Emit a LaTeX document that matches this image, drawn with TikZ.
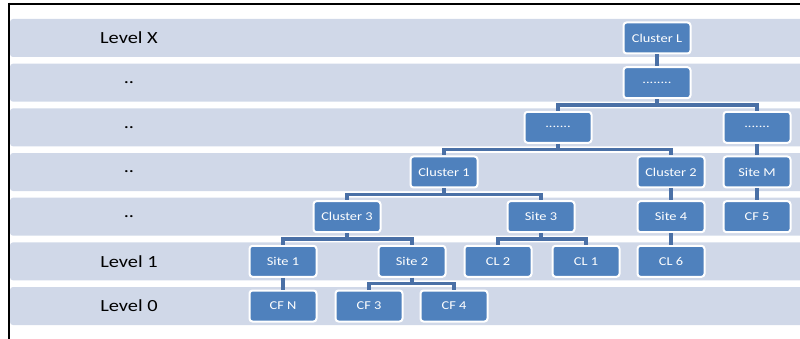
\documentclass[tikz,border=0pt]{standalone}
\usepackage{fontspec}
\setmainfont{Carlito}[FakeStretch=1.2]
\usetikzlibrary{calc}
\definecolor{bandcol}{HTML}{D0D8E8}
\definecolor{boxcol}{HTML}{4F81BD}
\definecolor{linkcol}{HTML}{4A70A6}
\tikzset{
  band/.style={fill=bandcol, draw=none, rounded corners=3pt},
  levellabel/.style={font=\fontsize{17}{19}\selectfont, text=black},
  unit/.style={draw=white, line width=2pt, fill=boxcol, rounded corners=3pt,
    minimum width=67pt, minimum height=31pt, inner sep=0pt,
    text=white, font=\fontsize{12}{14}\selectfont},
  link/.style={draw=linkcol, line width=3.5pt},
}
\newcommand{\linkto}[2]{%
  \draw[link] (#1.south) |- ($(#1.south)!0.5!(#2.north)$) -| (#2.north);}
\begin{document}
\begin{tikzpicture}[x=1pt, y=-1pt]
  \useasboundingbox (0,0) rectangle (800,339);
  % level bands
  \foreach \i in {0,...,6} {
    \pgfmathsetmacro{\top}{19+44.67*\i}
    \fill[band] (10,\top) rectangle (806,\top+38);
  }
  % frame lines
  \draw[black, line width=2pt] (8,3.7) -- (800,3.7);
  \draw[black, line width=2pt] (9.3,2.7) -- (9.3,339);
  % level labels
  \node[levellabel] (lx) at (129,38) {Level X};
  \node[levellabel] (l5) at (129,82.7) {..};
  \node[levellabel] (l4) at (129,127.3) {..};
  \node[levellabel] (l3) at (129,172) {..};
  \node[levellabel] (l2) at (129,216.7) {..};
  \node[levellabel] (l1) at (129,261.3) {Level 1};
  \node[levellabel] (l0) at (129,306) {Level 0};
  % hierarchy
  \node[unit] (cL) at (657,38) {Cluster L};
  \node[unit] (d1) at (657,82.7) {........};
  \node[unit] (d2a) at (558,127.3) {.......};
  \node[unit] (d2b) at (757,127.3) {.......};
  \node[unit] (c1) at (444,172) {Cluster 1};
  \node[unit] (c2) at (671,172) {Cluster 2};
  \node[unit] (sM) at (757,172) {Site M};
  \node[unit] (c3) at (347,216.7) {Cluster 3};
  \node[unit] (s3) at (541,216.7) {Site 3};
  \node[unit] (s4) at (671,216.7) {Site 4};
  \node[unit] (cf5) at (757,216.7) {CF 5};
  \node[unit] (s1) at (283,261.3) {Site 1};
  \node[unit] (s2) at (412,261.3) {Site 2};
  \node[unit] (cl2) at (498,261.3) {CL 2};
  \node[unit] (cl1) at (586,261.3) {CL 1};
  \node[unit] (cl6) at (671,261.3) {CL 6};
  \node[unit] (cfN) at (283,306) {CF N};
  \node[unit] (cf3) at (369,306) {CF 3};
  \node[unit] (cf4) at (454,306) {CF 4};
  % connectors
  \linkto{cL}{d1}
  \linkto{d1}{d2a}
  \linkto{d1}{d2b}
  \linkto{d2a}{c1}
  \linkto{d2a}{c2}
  \linkto{d2b}{sM}
  \linkto{c1}{c3}
  \linkto{c1}{s3}
  \linkto{c2}{s4}
  \linkto{sM}{cf5}
  \linkto{c3}{s1}
  \linkto{c3}{s2}
  \linkto{s3}{cl2}
  \linkto{s3}{cl1}
  \linkto{s4}{cl6}
  \linkto{s1}{cfN}
  \linkto{s2}{cf3}
  \linkto{s2}{cf4}
\end{tikzpicture}
\end{document}
